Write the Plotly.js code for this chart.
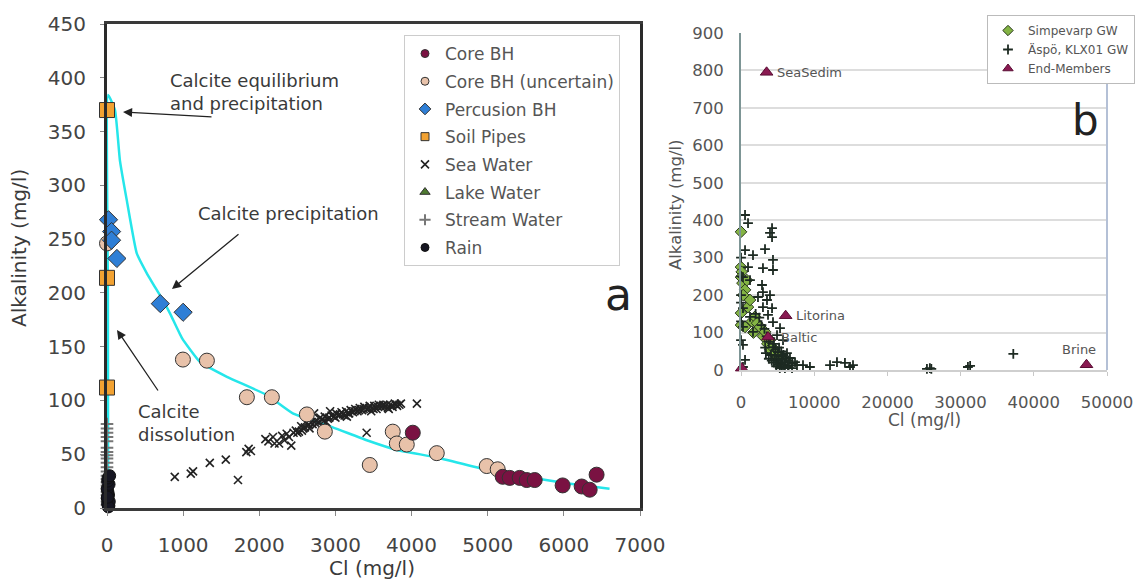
<!DOCTYPE html>
<html>
<head>
<meta charset="utf-8">
<script src="https://cdn.plot.ly/plotly-3.0.1.min.js"></script>
<style>html,body{margin:0;padding:0;background:#fff}#chart{width:1136px;height:583px}</style>
</head>
<body>
<div id="chart"></div>
<script>
// ---------- Panel a data ----------
const coreX = [4016, 5197, 5289, 5420, 5512, 5617, 5984, 6234, 6339, 6430];
const coreY = [70, 29, 28, 28, 26, 26, 21, 20, 17, 31];

const uncX = [0, 997, 1312, 1837, 2165, 2625, 2861, 3451, 3753, 3806, 3937, 4331, 4987, 5131];
const uncY = [246, 138, 137, 103, 103, 87, 71, 40, 71, 60, 59, 51, 39, 36];

const percX = [20, 60, 60, 130, 700, 1000];
const percY = [268, 257, 249, 232, 190, 182];

const soilX = [0, 0, 0];
const soilY = [370, 214, 112];

const seaX = [890, 1100, 1130, 1350, 1560, 1720, 1830, 1860, 1890, 2080, 2120, 2200, 2180, 2300, 2360, 2420,
  2480, 2500, 2550, 2580, 2620, 2650, 2680, 2700, 2720, 2740, 2780, 2800, 2830, 2860, 2900, 2930, 2950, 2980,
  3010, 3050, 3080, 3100, 3140, 3170, 3200, 3230, 3260, 3290, 3320, 3350, 3380, 3410, 3420, 3450, 3480, 3510,
  3540, 3570, 3600, 3630, 3660, 3690, 3720, 3750, 3780, 3810, 3840, 4070,
  2330, 2390, 2450, 2520, 2600, 2660, 2750, 2850, 2920, 3000, 3060, 3120, 3180, 3250, 3310, 3370, 3440, 3500,
  3560, 3620, 3680, 3740, 3800, 3860, 2260, 2560, 2880, 3150, 3470, 3700];
const seaY = [29, 32, 34, 42, 45, 26, 52, 55, 53, 64, 62, 60, 66, 67, 69, 58,
  72, 70, 76, 74, 79, 77, 80, 78, 88, 81, 80, 84, 82, 85, 83, 90, 86, 85,
  88, 86, 89, 87, 90, 88, 91, 89, 92, 90, 93, 91, 94, 70, 92, 95, 93, 95,
  92, 96, 94, 96, 95, 93, 96, 94, 97, 95, 96, 97,
  63, 66, 70, 71, 75, 74, 78, 81, 84, 84, 87, 86, 88, 90, 91, 92, 93, 92,
  94, 95, 96, 95, 96, 97, 60, 72, 80, 85, 90, 92];

const lakeX = [5, 10];
const lakeY = [8, 15];

const streamX = [0, 0, 0, 0, 0, 0, 0, 0, 0, 0, 0, 0, 0, 0, 0, 0, 0, 0, 0, 0, 0, 0];
const streamY = [78, 74, 70, 66, 62, 56, 52, 49, 46, 42, 38, 34, 30, 27, 24, 21, 18, 15, 12, 9, 6, 3];

const rainX = [2, 25, 8, 30, 4, 20, 12, 3, 27, 9, 15, 35, 18, 6];
const rainY = [-2, 2, 4, 6, 9, 12, 15, 18, 22, 25, 28, 30, 1, 10];

const fitX = [15, 12, 15, 105, 170, 260, 390, 525, 735, 827, 985, 1220, 1575, 2100, 2440, 2966, 3412, 3806, 4331, 5026, 5500, 6033, 6600];
const fitY = [10, 200, 384, 370, 323, 286, 237, 218, 193, 181, 158, 136, 122, 105, 88, 75, 63, 54, 47, 35, 29, 23, 18];

// ---------- Panel b data ----------
const simpX = [0, 0, 100, 0, 200, 550, 300, 950, 1230, 0, 0, 550, 1500, 1900, 2200, 2600, 3000, 3280, 3600, 3960, 4000, 4240, 4650, 5000, 800, 1700];
const simpY = [369, 275, 262, 248, 232, 214, 200, 168, 187, 152, 120, 115, 130, 142, 125, 115, 90, 102, 70, 80, 55, 62, 45, 35, 240, 100];

const aspoX = [550, 960, 4240, 3960, 4240, 3280, 550, 1640, 4370, 3000, 4370, 960, 270, 1230, 2870, 3000, 3960, 2320,
  3550, 3000, 4240, 270, 3690, 1230, 4370, 270, 1640, 5330, 4920, 5740, 270, 4370, 5050, 6280, 5600, 6690, 6010,
  7380, 5330, 6420, 7650, 8470, 9420, 5740, 6970, 550, 270, 12160, 13110, 14200, 15300, 14890, 25400, 26000,
  25800, 31300, 31000, 37200, 3500, 3800, 4000, 4500, 4700, 5200, 5500, 5800, 6200, 6500, 7000, 4100, 4800,
  5100, 5900, 3300, 2800, 2500, 2000, 3200, 0, 0, 0, 0, 0, 0,
  4500, 5000, 5500, 6000, 4800, 5300, 6500, 3800, 4200, 5600, 3400, 4600];
const aspoY = [414, 392, 379, 366, 355, 323, 320, 307, 294, 272, 267, 275, 248, 240, 227, 208, 200, 195,
  187, 168, 165, 165, 147, 142, 128, 115, 102, 112, 93, 80, 67, 61, 48, 45, 35, 32, 21,
  21, 19, 13, 13, 13, 8, 8, 5, 27, 8, 13, 21, 19, 13, 8, 3, 3,
  5, 11, 8, 43, 90, 75, 85, 70, 55, 60, 50, 40, 30, 25, 18, 40, 30,
  25, 15, 60, 120, 140, 150, 110, 300, 250, 200, 180, 130, 80,
  20, 15, 10, 5, 10, 5, 8, 30, 25, 28, 45, 38];

const emX = [100, 3500, 6100, 3700, 47200];
const emY = [5, 795, 145, 88, 14];
const emNames = ["", "SeaSedim", "Litorina", "Baltic", "Brine"];

// ---------- helpers ----------
const W = 1136, H = 583;
const px = v => v / W;
const py = v => 1 - v / H;
const FONT = "DejaVu Sans";
const OUT = '#333';

function series(name, x, y, marker, legend, grp) {
  const data = {type: 'scatter', mode: 'markers', x: x, y: y, name: name, xaxis: legend === 'legend' ? 'x' : 'x2',
    yaxis: legend === 'legend' ? 'y' : 'y2', marker: marker, showlegend: false, cliponaxis: false, hoverinfo: 'x+y'};
  const lm = Object.assign({}, marker, {size: marker.legendSize});
  delete data.marker.legendSize; delete lm.legendSize;
  const proxy = {type: 'scatter', mode: 'markers', x: [null], y: [null], name: name, xaxis: data.xaxis, yaxis: data.yaxis,
    marker: lm, showlegend: true, legend: legend, legendgroup: grp, hoverinfo: 'skip'};
  return [data, proxy];
}

let traces = [];
traces.push({type: 'scatter', mode: 'lines', x: fitX, y: fitY, xaxis: 'x', yaxis: 'y', line: {color: '#25E6EA', width: 2.5, shape: 'spline', smoothing: 0.4}, showlegend: false, hoverinfo: 'skip'});

const partsA = [
  ['Sea Water', seaX, seaY, {symbol: 'x-thin', size: 8, legendSize: 8, color: '#222', line: {color: '#222', width: 1.6}}],
  ['Stream Water', streamX, streamY, {symbol: 'cross-thin', size: 9, legendSize: 8, color: '#777', line: {color: '#777', width: 2}}],
  ['Lake Water', lakeX, lakeY, {symbol: 'triangle-up', size: 9, legendSize: 9, color: '#4E7A30', line: {color: OUT, width: 1}}],
  ['Core BH (uncertain)', uncX, uncY, {symbol: 'circle', size: 15, legendSize: 8, color: '#E8C2AA', line: {color: OUT, width: 1}}],
  ['Core BH', coreX, coreY, {symbol: 'circle', size: 15, legendSize: 8, color: '#7A1242', line: {color: OUT, width: 1}}],
  ['Percusion BH', percX, percY, {symbol: 'diamond', size: 14, legendSize: 9, color: '#2F7FD6', line: {color: OUT, width: 1}}],
  ['Soil Pipes', soilX, soilY, {symbol: 'square', size: 15, legendSize: 8, color: '#F2A232', line: {color: OUT, width: 1}}],
  ['Rain', rainX, rainY, {symbol: 'circle', size: 12, legendSize: 8, color: '#161622', line: {color: '#111', width: 1}}]
];
const legendOrderA = ['Core BH', 'Core BH (uncertain)', 'Percusion BH', 'Soil Pipes', 'Sea Water', 'Lake Water', 'Stream Water', 'Rain'];
const dataA = [], proxA = {};
partsA.forEach((p, i) => {
  const t = series(p[0], p[1], p[2], p[3], 'legend', 'a' + legendOrderA.indexOf(p[0]));
  dataA.push(t[0]); proxA[p[0]] = t[1];
});
traces = traces.concat(dataA);
legendOrderA.forEach(n => traces.push(proxA[n]));

const partsB = [
  ['Simpevarp GW', simpX, simpY, {symbol: 'diamond', size: 9, legendSize: 8, color: '#84B444', line: {color: '#2b3a20', width: 1}}],
  ['Äspö, KLX01 GW', aspoX, aspoY, {symbol: 'cross-thin', size: 7, legendSize: 7, color: '#1d2a22', line: {color: '#1d2a22', width: 1.8}}],
  ['End-Members', emX, emY, {symbol: 'triangle-up', size: 11, legendSize: 9, color: '#8A1A52', line: {color: '#5a0e34', width: 1}}]
];
const proxB = [];
partsB.forEach(p => {
  const t = series(p[0], p[1], p[2], p[3], 'legend2', undefined);
  traces.push(t[0]); proxB.push(t[1]);
});
traces = traces.concat(proxB);

// ---------- annotations ----------
const ann = [];
function txt(text, x, y, size, opts) {
  ann.push(Object.assign({text: text, x: px(x), y: py(y), xref: 'paper', yref: 'paper', showarrow: false,
    font: {family: FONT, size: size, color: '#3a3a3a'}, xanchor: 'left', yanchor: 'middle', align: 'left'}, opts || {}));
}
function arrow(x0, y0, x1, y1) {
  ann.push({x: px(x1), y: py(y1), ax: px(x0), ay: py(y0), xref: 'paper', yref: 'paper', axref: 'paper', ayref: 'paper',
    text: '', showarrow: true, arrowhead: 2, arrowsize: 1.4, arrowwidth: 1.3, arrowcolor: '#222'});
}
txt('Calcite equilibrium<br>and precipitation', 168, 92, 18);
txt('Calcite precipitation', 196, 214, 18);
txt('Calcite<br>dissolution', 136, 423, 18);
arrow(213, 117, 123, 112);
arrow(240, 233, 172, 289);
arrow(159, 392, 117, 330);
txt('a', 618, 294, 44, {xanchor: 'center', font: {family: FONT, size: 44, color: '#222'}});
txt('b', 1085, 120, 42, {xanchor: 'center', font: {family: FONT, size: 42, color: '#222'}});
// axis titles
txt('Alkalinity (mg/l)', 19, 248, 20, {xanchor: 'center', textangle: -90});
txt('Cl (mg/l)', 372, 568, 20, {xanchor: 'center'});
txt('Alkalinity (mg/l)', 675, 205, 16.5, {xanchor: 'center', textangle: -90, font: {family: FONT, size: 16.5, color: '#555'}});
txt('Cl (mg/l)', 924, 420, 17, {xanchor: 'center', font: {family: FONT, size: 17, color: '#555'}});
// end-member labels
emNames.forEach((n, i) => {
  if (!n) return;
  const a = {text: n, x: emX[i], y: emY[i], xref: 'x2', yref: 'y2', showarrow: false,
    font: {family: FONT, size: 13, color: '#555'}, xanchor: 'left', yanchor: 'middle', xshift: 8};
  if (n === 'Brine') { a.xanchor = 'center'; a.xshift = -8; a.yshift = 15; }
  if (n === 'Baltic') { a.xshift = 11; }
  ann.push(a);
});

const layout = {
  width: W, height: H,
  margin: {l: 0, r: 0, t: 0, b: 0},
  paper_bgcolor: '#fff', plot_bgcolor: '#fff',
  font: {family: FONT, color: '#444'},
  showlegend: true,
  xaxis: {domain: [px(107), px(640)], range: [0, 7000], dtick: 1000, anchor: 'y', tickformat: 'd',
    tickfont: {family: FONT, size: 20, color: '#444'}, showline: true, linecolor: '#3a3a3a', linewidth: 3, mirror: true,
    ticks: 'outside', ticklen: 5, tickcolor: '#888', ticklabelstandoff: 12, showgrid: false, zeroline: false},
  yaxis: {domain: [1 - 508 / H, 1 - 24 / H], range: [0, 450], dtick: 50, anchor: 'x',
    tickfont: {family: FONT, size: 20, color: '#444'}, showline: true, linecolor: '#2a2a2a', linewidth: 3, mirror: true,
    ticks: 'outside', ticklen: 4, tickcolor: '#888', ticklabelstandoff: 10, showgrid: false, zeroline: false},
  xaxis2: {domain: [px(741), px(1107)], range: [0, 50000], dtick: 10000, anchor: 'y2', tickformat: 'd',
    tickfont: {family: FONT, size: 16.5, color: '#555'}, showline: true, linecolor: '#cfcfcf', linewidth: 2,
    ticks: 'outside', ticklen: 4, tickcolor: '#c8c8c8', ticklabelstandoff: 12, showgrid: false, zeroline: false},
  yaxis2: {domain: [1 - 370 / H, 1 - 33 / H], range: [0, 900], dtick: 100, anchor: 'x2',
    tickfont: {family: FONT, size: 16.5, color: '#555'}, showline: true, linecolor: '#7d9595', linewidth: 2,
    ticks: '', ticklabelstandoff: 12, showgrid: true, gridcolor: '#dddddd', gridwidth: 2, zeroline: false},
  legend: {x: px(404), y: py(35), xanchor: 'left', yanchor: 'top', bgcolor: '#fff', bordercolor: '#cccccc', borderwidth: 1,
    font: {family: FONT, size: 17, color: '#555'}, tracegroupgap: 2.6, traceorder: 'grouped'},
  legend2: {x: px(1135), y: py(15), xanchor: 'right', yanchor: 'top', bgcolor: '#fff', bordercolor: '#bbbbbb', borderwidth: 1,
    font: {family: FONT, size: 12, color: '#555'}},
  shapes: [{type: 'line', xref: 'x2 domain', yref: 'y2 domain', x0: 1, x1: 1, y0: 0, y1: 1, line: {color: '#b4c0d6', width: 2}}],
  annotations: ann
};

Plotly.newPlot('chart', traces, layout, {displayModeBar: false, staticPlot: true});
</script>
</body>
</html>
